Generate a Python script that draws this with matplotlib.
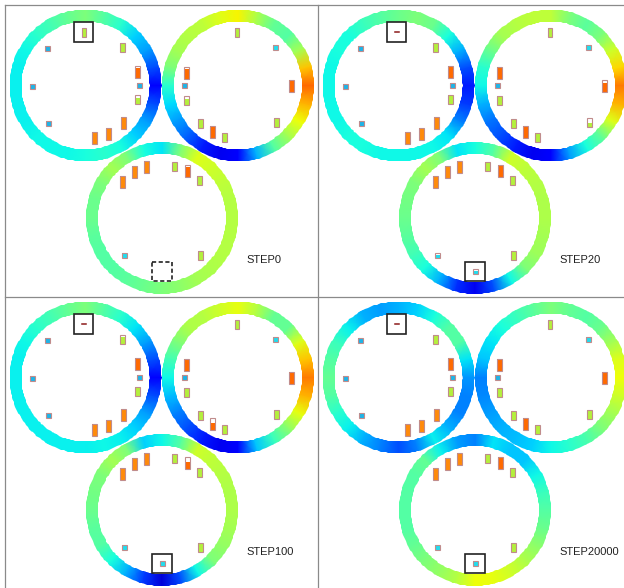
import numpy as np
import matplotlib.pyplot as plt
from matplotlib.patches import Rectangle, PathPatch
from matplotlib.path import Path

steps = ['STEP0', 'STEP20', 'STEP100', 'STEP20000']

# top-left corner of every panel (pixels)
panel_x = [5, 318, 5, 318]
panel_y = [5, 5, 297, 297]

# ring centres inside a panel: A (left), B (right), C (bottom)
ring_cx = [80.5, 233.0, 157.0]
ring_cy = [80.5, 80.5, 213.0]
r_in, r_out = 64, 76

# level around each ring, every 15 deg counter-clockwise from east
angles = np.arange(0, 360, 15)

ringA = [
    [0.12, 0.2, 0.28, 0.33, 0.4, 0.45, 0.5, 0.47, 0.43, 0.4, 0.37, 0.36,
     0.36, 0.36, 0.36, 0.37, 0.37, 0.37, 0.38, 0.4, 0.38, 0.33, 0.28, 0.2],
    [0.15, 0.2, 0.3, 0.38, 0.48, 0.5, 0.48, 0.45, 0.42, 0.38, 0.38, 0.37,
     0.37, 0.37, 0.37, 0.38, 0.38, 0.37, 0.37, 0.37, 0.37, 0.35, 0.25, 0.18],
    [0.12, 0.2, 0.28, 0.35, 0.4, 0.45, 0.5, 0.47, 0.43, 0.4, 0.37, 0.36,
     0.36, 0.36, 0.36, 0.36, 0.36, 0.36, 0.36, 0.37, 0.36, 0.33, 0.28, 0.2],
    [0.27, 0.35, 0.45, 0.45, 0.38, 0.33, 0.3, 0.28, 0.3, 0.36, 0.42, 0.45,
     0.47, 0.45, 0.4, 0.36, 0.3, 0.25, 0.2, 0.25, 0.36, 0.3, 0.25, 0.25],
]
ringB = [
    [0.8, 0.7, 0.55, 0.45, 0.47, 0.56, 0.65, 0.62, 0.58, 0.57, 0.55, 0.5,
     0.4, 0.34, 0.28, 0.22, 0.15, 0.1, 0.12, 0.3, 0.45, 0.55, 0.64, 0.72],
    [0.78, 0.68, 0.6, 0.5, 0.46, 0.5, 0.58, 0.58, 0.57, 0.55, 0.48, 0.4,
     0.37, 0.3, 0.24, 0.2, 0.15, 0.1, 0.12, 0.28, 0.38, 0.47, 0.62, 0.72],
    [0.78, 0.7, 0.62, 0.47, 0.47, 0.57, 0.63, 0.6, 0.57, 0.56, 0.5, 0.43,
     0.37, 0.31, 0.25, 0.2, 0.15, 0.1, 0.12, 0.32, 0.42, 0.52, 0.63, 0.72],
    [0.64, 0.62, 0.55, 0.48, 0.45, 0.47, 0.5, 0.46, 0.42, 0.38, 0.35, 0.32,
     0.25, 0.26, 0.28, 0.3, 0.31, 0.33, 0.37, 0.4, 0.44, 0.5, 0.55, 0.6],
]
ringC = [
    [0.57, 0.57, 0.58, 0.6, 0.62, 0.5, 0.35, 0.38, 0.5, 0.55, 0.5, 0.48,
     0.48, 0.46, 0.45, 0.45, 0.46, 0.48, 0.5, 0.52, 0.55, 0.56, 0.57, 0.57],
    [0.56, 0.56, 0.57, 0.58, 0.6, 0.45, 0.38, 0.35, 0.5, 0.55, 0.5, 0.49,
     0.48, 0.46, 0.43, 0.38, 0.3, 0.17, 0.1, 0.2, 0.37, 0.5, 0.54, 0.55],
    [0.56, 0.56, 0.57, 0.58, 0.6, 0.45, 0.37, 0.33, 0.5, 0.55, 0.5, 0.49,
     0.48, 0.46, 0.45, 0.38, 0.3, 0.18, 0.08, 0.2, 0.37, 0.5, 0.53, 0.55],
    [0.45, 0.42, 0.37, 0.32, 0.32, 0.35, 0.25, 0.28, 0.36, 0.47, 0.45, 0.45,
     0.45, 0.45, 0.47, 0.5, 0.53, 0.57, 0.64, 0.63, 0.6, 0.56, 0.52, 0.48],
]

# tanks sitting inside each ring: angle (deg) and kind
item_r = 53.5
itemsA_ang = [92, 136, 46, 15, 0, -15, 181, 226, -45, -65, -80]
itemsA_kind = ['t', 'c', 'g', 'r', 'c', 'g', 'c', 'c', 'o', 'o', 'o']
itemsB_ang = [91, 46, 0, 166, 180, 196, -44, 226, 241, 255]
itemsB_kind = ['t', 'b', 'r', 'r', 'c', 'g', 'g', 'g', 'r', 'g']
itemsC_ang = [137, 121, 107, 76, 61, 45, 225, -44, -90]
itemsC_kind = ['o', 'o', 'o', 'g', 'r', 'g', 'b', 'g', 'b']

# fill fraction of each tank per step (0 = empty, nan = not there)
nan = np.nan
fillA = [
    [1, 1, 1, 0.8, 1, 0.6, 1, 1, 1, 1, 1],
    [0, 1, 1, 1, 1, 1, 1, 1, 1, 1, 1],
    [0, 1, 0.7, 1, 1, 1, 1, 1, 1, 1, 1],
    [0, 1, 1, 1, 1, 1, 1, 1, 1, 1, 1],
]
fillB = [
    [1, 1, 1, 0.8, 1, 0.6, 1, 1, 1, 1],
    [1, 1, 0.75, 1, 1, 1, 0.5, 1, 1, 1],
    [1, 1, 1, 1, 1, 1, 1, 1, 0.6, 0.8],
    [1, 1, 1, 1, 1, 1, 1, 1, 1, 1],
]
fillC = [
    [1, 1, 1, 0.85, 0.85, 1, 1, 1, nan],
    [1, 1, 1, 1, 1, 1, 0.6, 1, 0.55],
    [1, 1, 1, 1, 0.6, 1, 1, 1, 1],
    [1, 1, 1, 1, 1, 1, 1, 1, 1],
]

# highlighted tanks: (ring, tank index); dashed while the slot is still empty
boxes = [(0, 0), (2, 8)]

kind_size = {'t': (4, 9), 'c': (5, 5), 'b': (5, 5), 'g': (5, 9), 'o': (5, 12), 'r': (5, 12)}
kind_color = {'t': '#b4f03c', 'g': '#b4f03c', 'c': '#1eb4e8', 'b': '#22dcee',
              'o': '#ff8a0a', 'r': '#ff6a00'}

fig = plt.figure(figsize=(6.24, 5.88), dpi=100)
ax = fig.add_axes([0, 0, 1, 1])
ax.set_xlim(0, 624)
ax.set_ylim(588, 0)
ax.axis('off')


def annulus(cx, cy):
    t = np.linspace(0, 2 * np.pi, 200)
    outer = np.column_stack([cx + r_out * np.cos(t), cy + r_out * np.sin(t)])
    inner = np.column_stack([cx + r_in * np.cos(t[::-1]), cy + r_in * np.sin(t[::-1])])
    verts = np.vstack([outer, inner])
    codes = np.full(len(verts), Path.LINETO)
    codes[0] = Path.MOVETO
    codes[len(outer)] = Path.MOVETO
    return Path(verts, codes)


def draw_ring(cx, cy, levels):
    th = np.deg2rad(np.append(angles, 360))
    rr = np.array([r_in - 3, r_out + 3])
    T, R = np.meshgrid(th, rr)
    X = cx + R * np.cos(T)
    Y = cy - R * np.sin(T)
    lv = np.append(levels, levels[0])
    C = np.vstack([lv, lv])
    mesh = ax.pcolormesh(X, Y, C, cmap='jet', vmin=0, vmax=1, shading='gouraud', zorder=1)
    clip = PathPatch(annulus(cx, cy), transform=ax.transData, facecolor='none', edgecolor='none')
    ax.add_patch(clip)
    mesh.set_clip_path(clip)


def draw_tank(x, y, kind, frac):
    if np.isnan(frac):
        return
    if frac == 0:
        ax.plot([x - 2, x + 2], [y, y], color='#8b1a1a', lw=1.1, zorder=3)
        return
    w, h = kind_size[kind]
    ax.add_patch(Rectangle((x - w / 2, y - h / 2), w, h, facecolor='white',
                           edgecolor='none', zorder=2))
    ax.add_patch(Rectangle((x - w / 2, y + h / 2 - h * frac), w, h * frac,
                           facecolor=kind_color[kind], edgecolor='none', zorder=3))
    ax.add_patch(Rectangle((x - w / 2, y - h / 2), w, h, facecolor='none',
                           edgecolor='#c08c8c', lw=0.8, zorder=4))


ring_levels = [ringA, ringB, ringC]
ring_items = [(itemsA_ang, itemsA_kind, fillA), (itemsB_ang, itemsB_kind, fillB),
              (itemsC_ang, itemsC_kind, fillC)]

for p, step in enumerate(steps):
    ox, oy = panel_x[p], panel_y[p]
    for k in range(3):
        cx, cy = ox + ring_cx[k], oy + ring_cy[k]
        draw_ring(cx, cy, ring_levels[k][p])
        ang, kinds, fills = ring_items[k]
        for a, kind, f in zip(ang, kinds, fills[p]):
            t = np.deg2rad(a)
            draw_tank(cx + item_r * np.cos(t), cy - item_r * np.sin(t), kind, f)
    for k, i in boxes:
        t = np.deg2rad(ring_items[k][0][i])
        bx = ox + ring_cx[k] + item_r * np.cos(t)
        by = oy + ring_cy[k] + item_r * np.sin(-t)
        empty = np.isnan(ring_items[k][2][p][i])
        ax.add_patch(Rectangle((bx - 9.8, by - 9.8), 19.6, 19.6, facecolor='none',
                               edgecolor='#222222', lw=1.2,
                               linestyle=(0, (2.5, 1.5)) if empty else '-', zorder=5))
    ax.text(ox + 241, oy + 255, step, fontsize=8, family='Liberation Sans',
            color='#222222', va='center', ha='left')

# panel frames
frame = dict(color='#8a8a8a', lw=0.9, zorder=6)
ax.plot([5, 5], [5, 588], **frame)
ax.plot([318, 318], [5, 588], **frame)
ax.plot([5, 624], [5, 5], **frame)
ax.plot([5, 624], [297, 297], **frame)

fig.savefig('out.png', dpi=100)
